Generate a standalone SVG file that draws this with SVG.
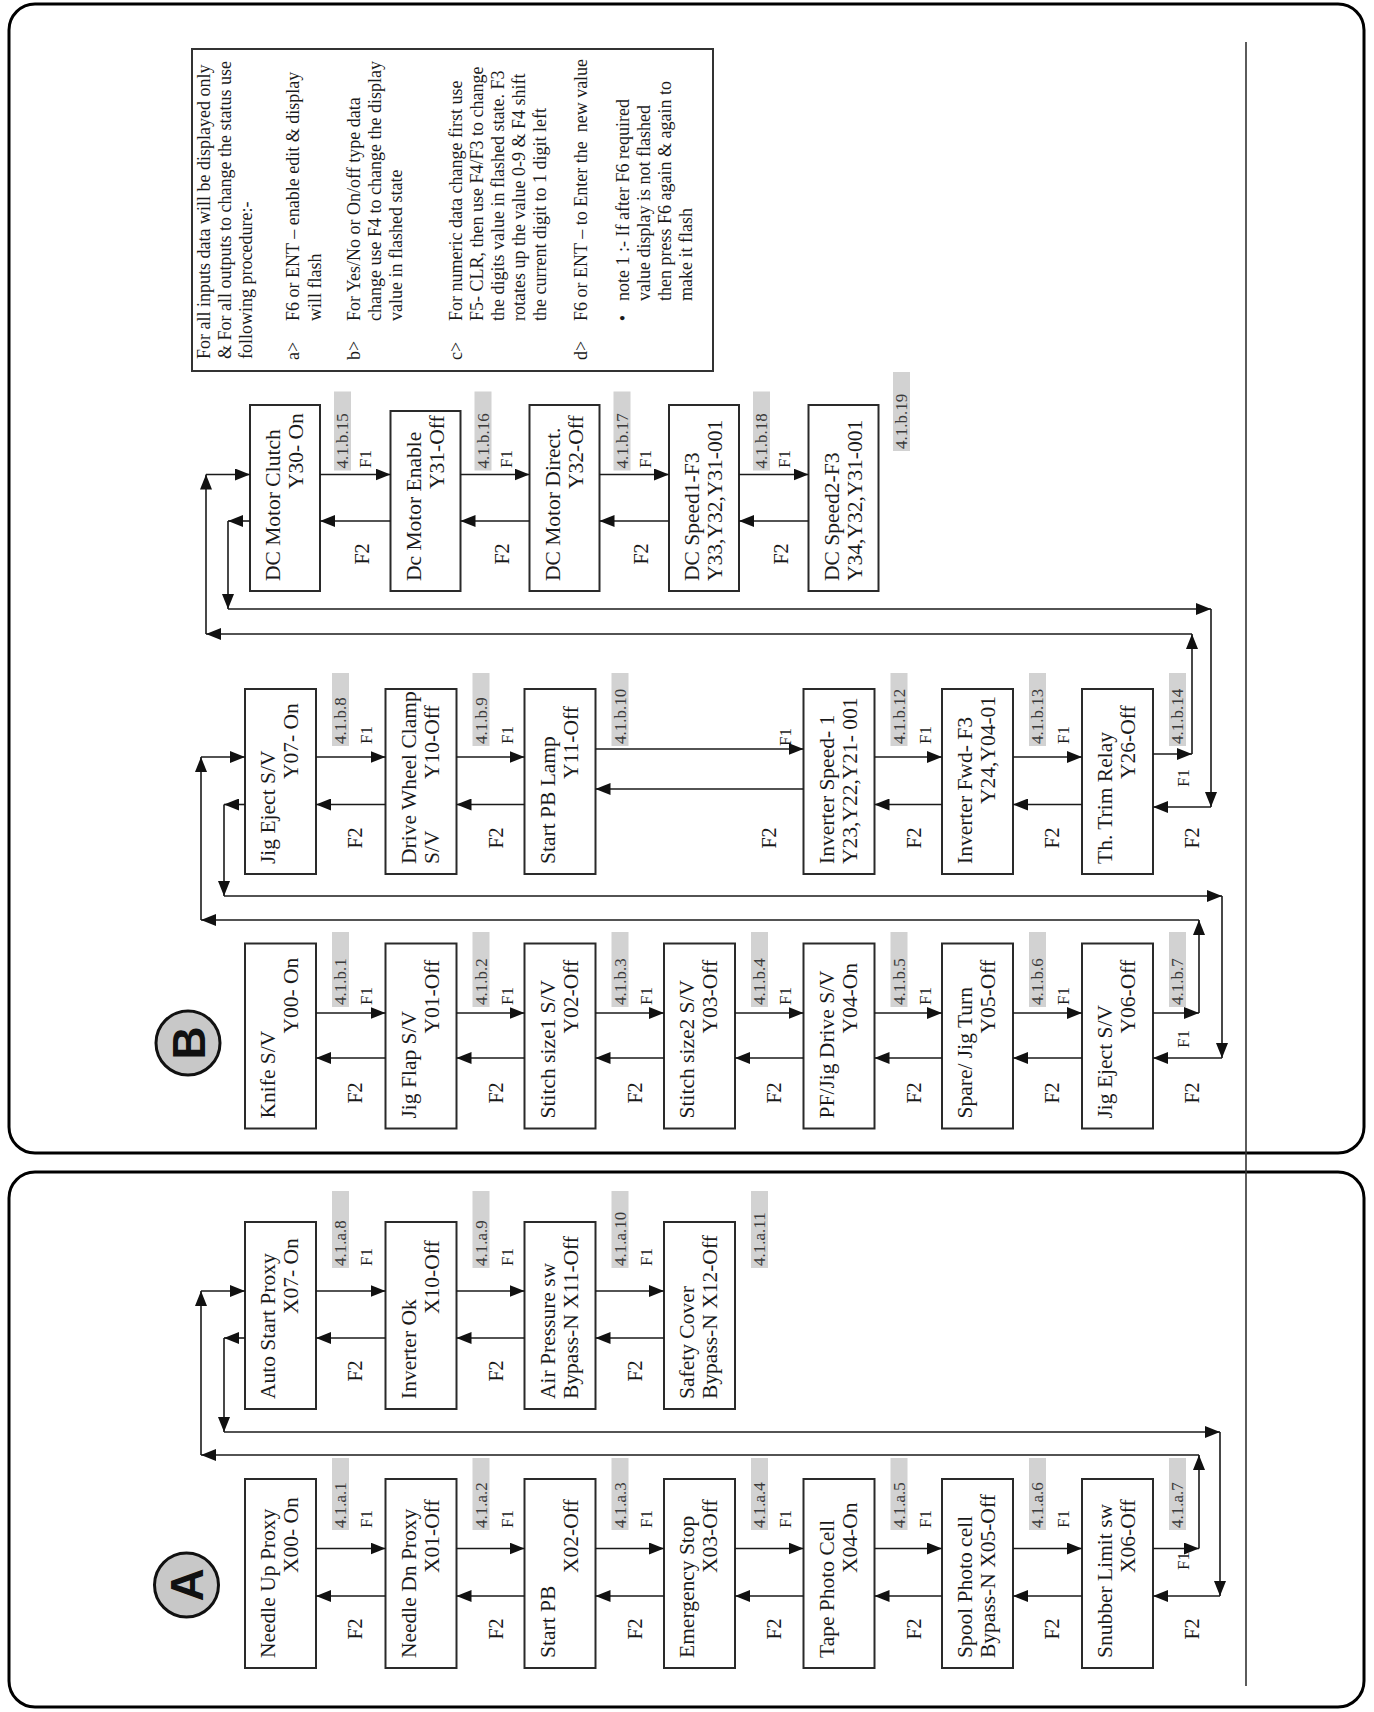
<svg xmlns="http://www.w3.org/2000/svg" width="1374" height="1712" viewBox="0 0 1374 1712">
<defs>
<marker id="ah" markerUnits="userSpaceOnUse" markerWidth="15" markerHeight="12" refX="15" refY="6" orient="auto"><path d="M0,0 L15,6 L0,12 z" fill="#111"/></marker>
<style>
.pn{fill:none;stroke:#000;stroke-width:3}
.bx{fill:#fff;stroke:#2a2a2a;stroke-width:2}
.t{font-family:"Liberation Serif","Times New Roman",serif;fill:#1a1a1a}
.n{font-size:21.5px}
.lb{font-size:17px;fill:#3a3a3a}
.g{fill:#d2d2d2}
.f1{font-size:17px}
.f2{font-size:20px}
.nt{font-size:18px}
.m{text-anchor:middle}
.c path{fill:none;stroke:#1a1a1a;stroke-width:1.6;marker-end:url(#ah)}
.circ{fill:#c8c8c8;stroke:#111;stroke-width:3}
.big{font-family:"Liberation Sans",Arial,sans-serif;font-weight:bold;font-size:46px;fill:#111;text-anchor:middle}
</style>
</defs>
<rect width="1374" height="1712" fill="#fff"/>
<g id="panels">
<rect class="pn" x="9" y="4" width="1355" height="1149" rx="26"/>
<rect class="pn" x="9" y="1172" width="1355" height="535" rx="26"/>
<line x1="1246" y1="42" x2="1246" y2="1686" stroke="#333" stroke-width="1.6"/>
</g>

<g id="badgeA"><circle class="circ" cx="186.5" cy="1585" r="32"/><text class="big" transform="translate(203,1585) rotate(-90)">A</text></g>
<g id="badgeB"><circle class="circ" cx="188" cy="1043" r="32"/><text class="big" transform="translate(204.5,1043) rotate(-90)">B</text></g>

<g id="note">
<rect x="192" y="49" width="521" height="322" fill="#fff" stroke="#333" stroke-width="2"/>
<g class="t nt">
<text transform="translate(210,359) rotate(-90)">For all inputs data will be displayed only</text>
<text transform="translate(231,359) rotate(-90)">&amp; For all outputs to change the status use</text>
<text transform="translate(252,359) rotate(-90)">following procedure:-</text>
<text transform="translate(299,360) rotate(-90)">a&gt;</text>
<text transform="translate(299,321) rotate(-90)">F6 or ENT – enable edit &amp; display</text>
<text transform="translate(320.5,321) rotate(-90)">will flash</text>
<text transform="translate(359.5,360) rotate(-90)">b&gt;</text>
<text transform="translate(359.5,321) rotate(-90)">For Yes/No or On/off type data</text>
<text transform="translate(380.5,321) rotate(-90)">change use F4 to change the display</text>
<text transform="translate(401.5,321) rotate(-90)">value in flashed state</text>
<text transform="translate(462,360) rotate(-90)">c&gt;</text>
<text transform="translate(462,321) rotate(-90)">For numeric data change first use</text>
<text transform="translate(483,321) rotate(-90)">F5- CLR, then use F4/F3 to change</text>
<text transform="translate(504,321) rotate(-90)">the digits value in flashed state. F3</text>
<text transform="translate(525,321) rotate(-90)">rotates up the value 0-9 &amp; F4 shift</text>
<text transform="translate(546,321) rotate(-90)">the current digit to 1 digit left</text>
<text transform="translate(586.5,360) rotate(-90)">d&gt;</text>
<text transform="translate(586.5,321) rotate(-90)" xml:space="preserve">F6 or ENT – to Enter the  new value</text>
<text class="m" transform="translate(628.6,318) rotate(-90)">•</text>
<text transform="translate(628.6,301) rotate(-90)">note 1 :- If after F6 required</text>
<text transform="translate(649.7,301) rotate(-90)">value display is not flashed</text>
<text transform="translate(670.7,301) rotate(-90)">then press F6 again &amp; again to</text>
<text transform="translate(691.5,301) rotate(-90)">make it flash</text>
</g>
</g>

<!-- Panel A lower row -->
<g id="a1"><rect class="bx" x="245" y="1479" width="71" height="189"/><text class="t n" transform="translate(275,1658) rotate(-90)">Needle Up Proxy</text><text class="t n" transform="translate(298,1573) rotate(-90)">X00- On</text></g>
<g id="a2"><rect class="bx" x="385.5" y="1479" width="71" height="189"/><text class="t n" transform="translate(415.5,1658) rotate(-90)">Needle Dn Proxy</text><text class="t n" transform="translate(438.5,1573) rotate(-90)">X01-Off</text></g>
<g id="a3"><rect class="bx" x="524.5" y="1479" width="71" height="189"/><text class="t n" transform="translate(554.5,1658) rotate(-90)">Start PB</text><text class="t n" transform="translate(577.5,1573) rotate(-90)">X02-Off</text></g>
<g id="a4"><rect class="bx" x="664" y="1479" width="71" height="189"/><text class="t n" transform="translate(694,1658) rotate(-90)">Emergency Stop</text><text class="t n" transform="translate(717,1573) rotate(-90)">X03-Off</text></g>
<g id="a5"><rect class="bx" x="803.5" y="1479" width="71" height="189"/><text class="t n" transform="translate(833.5,1658) rotate(-90)">Tape Photo Cell</text><text class="t n" transform="translate(856.5,1573) rotate(-90)">X04-On</text></g>
<g id="a6"><rect class="bx" x="942" y="1479" width="71" height="189"/><text class="t n" transform="translate(972,1658) rotate(-90)">Spool Photo cell</text><text class="t n" transform="translate(995,1658) rotate(-90)">Bypass-N X05-Off</text></g>
<g id="a7"><rect class="bx" x="1082" y="1479" width="71" height="189"/><text class="t n" transform="translate(1112,1658) rotate(-90)">Snubber Limit sw</text><text class="t n" transform="translate(1135,1573) rotate(-90)">X06-Off</text></g>

<!-- Panel A upper row -->
<g id="a8"><rect class="bx" x="245" y="1222" width="71" height="187"/><text class="t n" transform="translate(275,1399) rotate(-90)">Auto Start Proxy</text><text class="t n" transform="translate(298,1314) rotate(-90)">X07- On</text></g>
<g id="a9"><rect class="bx" x="385.5" y="1222" width="71" height="187"/><text class="t n" transform="translate(415.5,1399) rotate(-90)">Inverter Ok</text><text class="t n" transform="translate(438.5,1314) rotate(-90)">X10-Off</text></g>
<g id="a10"><rect class="bx" x="524.5" y="1222" width="71" height="187"/><text class="t n" transform="translate(554.5,1399) rotate(-90)">Air Pressure sw</text><text class="t n" transform="translate(577.5,1399) rotate(-90)">Bypass-N X11-Off</text></g>
<g id="a11"><rect class="bx" x="664" y="1222" width="71" height="187"/><text class="t n" transform="translate(694,1399) rotate(-90)">Safety Cover</text><text class="t n" transform="translate(717,1399) rotate(-90)">Bypass-N X12-Off</text></g>

<!-- Panel B bottom row -->
<g id="b1"><rect class="bx" x="245" y="943.5" width="71" height="185"/><text class="t n" transform="translate(275,1118.5) rotate(-90)">Knife S/V</text><text class="t n" transform="translate(298,1033.5) rotate(-90)">Y00- On</text></g>
<g id="b2"><rect class="bx" x="385.5" y="943.5" width="71" height="185"/><text class="t n" transform="translate(415.5,1118.5) rotate(-90)">Jig Flap S/V</text><text class="t n" transform="translate(438.5,1033.5) rotate(-90)">Y01-Off</text></g>
<g id="b3"><rect class="bx" x="524.5" y="943.5" width="71" height="185"/><text class="t n" transform="translate(554.5,1118.5) rotate(-90)">Stitch size1 S/V</text><text class="t n" transform="translate(577.5,1033.5) rotate(-90)">Y02-Off</text></g>
<g id="b4"><rect class="bx" x="664" y="943.5" width="71" height="185"/><text class="t n" transform="translate(694,1118.5) rotate(-90)">Stitch size2 S/V</text><text class="t n" transform="translate(717,1033.5) rotate(-90)">Y03-Off</text></g>
<g id="b5"><rect class="bx" x="803.5" y="943.5" width="71" height="185"/><text class="t n" transform="translate(833.5,1118.5) rotate(-90)">PF/Jig Drive S/V</text><text class="t n" transform="translate(856.5,1033.5) rotate(-90)">Y04-On</text></g>
<g id="b6"><rect class="bx" x="942" y="943.5" width="71" height="185"/><text class="t n" transform="translate(972,1118.5) rotate(-90)">Spare/ Jig Turn</text><text class="t n" transform="translate(995,1033.5) rotate(-90)">Y05-Off</text></g>
<g id="b7"><rect class="bx" x="1082" y="943.5" width="71" height="185"/><text class="t n" transform="translate(1112,1118.5) rotate(-90)">Jig Eject S/V</text><text class="t n" transform="translate(1135,1033.5) rotate(-90)">Y06-Off</text></g>

<!-- Panel B middle row -->
<g id="b8"><rect class="bx" x="245" y="689" width="71" height="185"/><text class="t n" transform="translate(275,864) rotate(-90)">Jig Eject S/V</text><text class="t n" transform="translate(298,779) rotate(-90)">Y07- On</text></g>
<g id="b9"><rect class="bx" x="385.5" y="689" width="71" height="185"/><text class="t n" transform="translate(415.5,864) rotate(-90)">Drive Wheel Clamp</text><text class="t n" transform="translate(438.5,864) rotate(-90)">S/V</text><text class="t n" transform="translate(438.5,779) rotate(-90)">Y10-Off</text></g>
<g id="b10"><rect class="bx" x="524.5" y="689" width="71" height="185"/><text class="t n" transform="translate(554.5,864) rotate(-90)">Start PB Lamp</text><text class="t n" transform="translate(577.5,779) rotate(-90)">Y11-Off</text></g>
<g id="b12"><rect class="bx" x="803.5" y="689" width="71" height="185"/><text class="t n" transform="translate(833.5,864) rotate(-90)">Inverter Speed- 1</text><text class="t n" transform="translate(856.5,864) rotate(-90)">Y23,Y22,Y21- 001</text></g>
<g id="b13"><rect class="bx" x="942" y="689" width="71" height="185"/><text class="t n" transform="translate(972,864) rotate(-90)">Inverter Fwd- F3</text><text class="t n" transform="translate(995,804) rotate(-90)">Y24,Y04-01</text></g>
<g id="b14"><rect class="bx" x="1082" y="689" width="71" height="185"/><text class="t n" transform="translate(1112,864) rotate(-90)">Th. Trim Relay</text><text class="t n" transform="translate(1135,779) rotate(-90)">Y26-Off</text></g>

<!-- Panel B top row -->
<g id="b15"><rect class="bx" x="250" y="405" width="70" height="186"/><text class="t n" transform="translate(280,581) rotate(-90)">DC Motor Clutch</text><text class="t n" transform="translate(303,489) rotate(-90)">Y30- On</text></g>
<g id="b16"><rect class="bx" x="390.5" y="411" width="70" height="180"/><text class="t n" transform="translate(420.5,581) rotate(-90)">Dc Motor Enable</text><text class="t n" transform="translate(443.5,489) rotate(-90)">Y31-Off</text></g>
<g id="b17"><rect class="bx" x="529.5" y="405" width="70" height="186"/><text class="t n" transform="translate(559.5,581) rotate(-90)">DC Motor Direct.</text><text class="t n" transform="translate(582.5,489) rotate(-90)">Y32-Off</text></g>
<g id="b18"><rect class="bx" x="669" y="405" width="70" height="186"/><text class="t n" transform="translate(699,581) rotate(-90)">DC Speed1-F3</text><text class="t n" transform="translate(722,581) rotate(-90)">Y33,Y32,Y31-001</text></g>
<g id="b19"><rect class="bx" x="808.5" y="405" width="70" height="186"/><text class="t n" transform="translate(838.5,581) rotate(-90)">DC Speed2-F3</text><text class="t n" transform="translate(861.5,581) rotate(-90)">Y34,Y32,Y31-001</text></g>

<!-- step labels -->
<g id="labels">
<!-- A lower -->
<rect class="g" x="332" y="1458" width="17" height="72"/><rect class="g" x="472.5" y="1458" width="17" height="72"/><rect class="g" x="611.5" y="1458" width="17" height="72"/><rect class="g" x="751" y="1458" width="17" height="72"/><rect class="g" x="890.5" y="1458" width="17" height="72"/><rect class="g" x="1029" y="1458" width="17" height="72"/><rect class="g" x="1169" y="1458" width="17" height="72"/>
<text class="t lb" transform="translate(346,1528) rotate(-90)">4.1.a.1</text>
<text class="t lb" transform="translate(486.5,1528) rotate(-90)">4.1.a.2</text>
<text class="t lb" transform="translate(625.5,1528) rotate(-90)">4.1.a.3</text>
<text class="t lb" transform="translate(765,1528) rotate(-90)">4.1.a.4</text>
<text class="t lb" transform="translate(904.5,1528) rotate(-90)">4.1.a.5</text>
<text class="t lb" transform="translate(1043,1528) rotate(-90)">4.1.a.6</text>
<text class="t lb" transform="translate(1183,1528) rotate(-90)">4.1.a.7</text>
<g class="t f1 m">
<text transform="translate(372,1519) rotate(-90)">F1</text><text transform="translate(512.5,1519) rotate(-90)">F1</text><text transform="translate(651.5,1519) rotate(-90)">F1</text><text transform="translate(791,1519) rotate(-90)">F1</text><text transform="translate(930.5,1519) rotate(-90)">F1</text><text transform="translate(1069,1519) rotate(-90)">F1</text><text transform="translate(1189,1561) rotate(-90)">F1</text>
</g>
<g class="t f2 m">
<text transform="translate(362,1629) rotate(-90)">F2</text><text transform="translate(502.5,1629) rotate(-90)">F2</text><text transform="translate(641.5,1629) rotate(-90)">F2</text><text transform="translate(781,1629) rotate(-90)">F2</text><text transform="translate(920.5,1629) rotate(-90)">F2</text><text transform="translate(1059,1629) rotate(-90)">F2</text><text transform="translate(1199,1629) rotate(-90)">F2</text>
</g>
<!-- A upper -->
<rect class="g" x="332" y="1191" width="17" height="77"/><rect class="g" x="472.5" y="1191" width="17" height="77"/><rect class="g" x="611.5" y="1191" width="17" height="77"/><rect class="g" x="751" y="1191" width="17" height="77"/>
<text class="t lb" transform="translate(346,1266) rotate(-90)">4.1.a.8</text>
<text class="t lb" transform="translate(486.5,1266) rotate(-90)">4.1.a.9</text>
<text class="t lb" transform="translate(625.5,1266) rotate(-90)">4.1.a.10</text>
<text class="t lb" transform="translate(765,1266) rotate(-90)">4.1.a.11</text>
<g class="t f1 m"><text transform="translate(372,1257) rotate(-90)">F1</text><text transform="translate(512.5,1257) rotate(-90)">F1</text><text transform="translate(651.5,1257) rotate(-90)">F1</text></g>
<g class="t f2 m"><text transform="translate(362,1371) rotate(-90)">F2</text><text transform="translate(502.5,1371) rotate(-90)">F2</text><text transform="translate(641.5,1371) rotate(-90)">F2</text></g>
<!-- B bottom -->
<rect class="g" x="332" y="932" width="17" height="75"/><rect class="g" x="472.5" y="932" width="17" height="75"/><rect class="g" x="611.5" y="932" width="17" height="75"/><rect class="g" x="751" y="932" width="17" height="75"/><rect class="g" x="890.5" y="932" width="17" height="75"/><rect class="g" x="1029" y="932" width="17" height="75"/><rect class="g" x="1169" y="932" width="17" height="75"/>
<text class="t lb" transform="translate(346,1005) rotate(-90)">4.1.b.1</text>
<text class="t lb" transform="translate(486.5,1005) rotate(-90)">4.1.b.2</text>
<text class="t lb" transform="translate(625.5,1005) rotate(-90)">4.1.b.3</text>
<text class="t lb" transform="translate(765,1005) rotate(-90)">4.1.b.4</text>
<text class="t lb" transform="translate(904.5,1005) rotate(-90)">4.1.b.5</text>
<text class="t lb" transform="translate(1043,1005) rotate(-90)">4.1.b.6</text>
<text class="t lb" transform="translate(1183,1005) rotate(-90)">4.1.b.7</text>
<g class="t f1 m">
<text transform="translate(372,996) rotate(-90)">F1</text><text transform="translate(512.5,996) rotate(-90)">F1</text><text transform="translate(651.5,996) rotate(-90)">F1</text><text transform="translate(791,996) rotate(-90)">F1</text><text transform="translate(930.5,996) rotate(-90)">F1</text><text transform="translate(1069,996) rotate(-90)">F1</text><text transform="translate(1189,1039) rotate(-90)">F1</text>
</g>
<g class="t f2 m">
<text transform="translate(362,1093) rotate(-90)">F2</text><text transform="translate(502.5,1093) rotate(-90)">F2</text><text transform="translate(641.5,1093) rotate(-90)">F2</text><text transform="translate(781,1093) rotate(-90)">F2</text><text transform="translate(920.5,1093) rotate(-90)">F2</text><text transform="translate(1059,1093) rotate(-90)">F2</text><text transform="translate(1199,1093) rotate(-90)">F2</text>
</g>
<!-- B middle -->
<rect class="g" x="332" y="673" width="17" height="73"/><rect class="g" x="472.5" y="673" width="17" height="73"/><rect class="g" x="611.5" y="673" width="17" height="73"/><rect class="g" x="890.5" y="673" width="17" height="73"/><rect class="g" x="1029" y="673" width="17" height="73"/><rect class="g" x="1169" y="673" width="17" height="73"/>
<text class="t lb" transform="translate(346,744) rotate(-90)">4.1.b.8</text>
<text class="t lb" transform="translate(486.5,744) rotate(-90)">4.1.b.9</text>
<text class="t lb" transform="translate(625.5,744) rotate(-90)">4.1.b.10</text>
<text class="t lb" transform="translate(904.5,744) rotate(-90)">4.1.b.12</text>
<text class="t lb" transform="translate(1043,744) rotate(-90)">4.1.b.13</text>
<text class="t lb" transform="translate(1183,744) rotate(-90)">4.1.b.14</text>
<g class="t f1 m">
<text transform="translate(372,735) rotate(-90)">F1</text><text transform="translate(512.5,735) rotate(-90)">F1</text><text transform="translate(791,737) rotate(-90)">F1</text><text transform="translate(930.5,735) rotate(-90)">F1</text><text transform="translate(1069,735) rotate(-90)">F1</text><text transform="translate(1189,778) rotate(-90)">F1</text>
</g>
<g class="t f2 m">
<text transform="translate(362,838) rotate(-90)">F2</text><text transform="translate(502.5,838) rotate(-90)">F2</text><text transform="translate(776,838) rotate(-90)">F2</text><text transform="translate(920.5,838) rotate(-90)">F2</text><text transform="translate(1059,838) rotate(-90)">F2</text><text transform="translate(1199,838) rotate(-90)">F2</text>
</g>
<!-- B top -->
<rect class="g" x="334" y="391.5" width="17" height="79"/><rect class="g" x="474.5" y="391.5" width="17" height="79"/><rect class="g" x="613.5" y="391.5" width="17" height="79"/><rect class="g" x="753" y="391.5" width="17" height="79"/><rect class="g" x="893" y="372" width="17" height="79"/>
<text class="t lb" transform="translate(348,468.5) rotate(-90)">4.1.b.15</text>
<text class="t lb" transform="translate(488.5,468.5) rotate(-90)">4.1.b.16</text>
<text class="t lb" transform="translate(627.5,468.5) rotate(-90)">4.1.b.17</text>
<text class="t lb" transform="translate(767,468.5) rotate(-90)">4.1.b.18</text>
<text class="t lb" transform="translate(907,449) rotate(-90)">4.1.b.19</text>
<g class="t f1 m">
<text transform="translate(371,459) rotate(-90)">F1</text><text transform="translate(511.5,459) rotate(-90)">F1</text><text transform="translate(650.5,459) rotate(-90)">F1</text><text transform="translate(790,459) rotate(-90)">F1</text>
</g>
<g class="t f2 m">
<text transform="translate(368.5,554) rotate(-90)">F2</text><text transform="translate(509,554) rotate(-90)">F2</text><text transform="translate(648,554) rotate(-90)">F2</text><text transform="translate(787.5,554) rotate(-90)">F2</text>
</g>
</g>

<g id="connectors" class="c">
<!-- A upper F1/F2 -->
<path d="M316,1291H385.5"/><path d="M456.5,1291H524.5"/><path d="M595.5,1291H664"/>
<path d="M385.5,1338H316"/><path d="M524.5,1338H456.5"/><path d="M664,1338H595.5"/>
<!-- A lower -->
<path d="M316,1548.5H385.5"/><path d="M456.5,1548.5H524.5"/><path d="M595.5,1548.5H664"/><path d="M735,1548.5H803.5"/><path d="M874.5,1548.5H942"/><path d="M1013,1548.5H1082"/>
<path d="M385.5,1596H316"/><path d="M524.5,1596H456.5"/><path d="M664,1596H595.5"/><path d="M803.5,1596H735"/><path d="M942,1596H874.5"/><path d="M1082,1596H1013"/>
<!-- A loops -->
<path d="M245,1338H224"/><path d="M224,1338V1432"/><path d="M224,1432H1220"/><path d="M1220,1432V1596"/><path d="M1220,1596H1153"/>
<path d="M1153,1548.5H1199"/><path d="M1199,1548.5V1455"/><path d="M1199,1455H201"/><path d="M201,1455V1291"/><path d="M201,1291H245"/>
<!-- B bottom -->
<path d="M316,1013H385.5"/><path d="M456.5,1013H524.5"/><path d="M595.5,1013H664"/><path d="M735,1013H803.5"/><path d="M874.5,1013H942"/><path d="M1013,1013H1082"/>
<path d="M385.5,1058H316"/><path d="M524.5,1058H456.5"/><path d="M664,1058H595.5"/><path d="M803.5,1058H735"/><path d="M942,1058H874.5"/><path d="M1082,1058H1013"/>
<!-- B middle -->
<path d="M316,757H385.5"/><path d="M456.5,757H524.5"/><path d="M595.5,749H803.5"/><path d="M874.5,757H942"/><path d="M1013,757H1082"/>
<path d="M385.5,804.5H316"/><path d="M524.5,804.5H456.5"/><path d="M803.5,789H595.5"/><path d="M942,804.5H874.5"/><path d="M1082,804.5H1013"/>
<!-- B middle/bottom loops -->
<path d="M245,804.5H224"/><path d="M224,804.5V896"/><path d="M224,896H1222"/><path d="M1222,896V1058"/><path d="M1222,1058H1153"/>
<path d="M1153,1013H1199"/><path d="M1199,1013V920"/><path d="M1199,920H201"/><path d="M201,920V757"/><path d="M201,757H245"/>
<!-- B top -->
<path d="M320,474.5H390.5"/><path d="M460.5,474.5H529.5"/><path d="M599.5,474.5H669"/><path d="M739,474.5H808.5"/>
<path d="M390.5,521H320"/><path d="M529.5,521H460.5"/><path d="M669,521H599.5"/><path d="M808.5,521H739"/>
<!-- B top/middle loops -->
<path d="M250,521H228"/><path d="M228,521V609"/><path d="M228,609H1211"/><path d="M1211,609V807"/><path d="M1211,807H1153"/>
<path d="M1153,754H1192"/><path d="M1192,754V634"/><path d="M1192,634H206"/><path d="M206,634V474.5"/><path d="M206,474.5H250"/>
</g>
</svg>
